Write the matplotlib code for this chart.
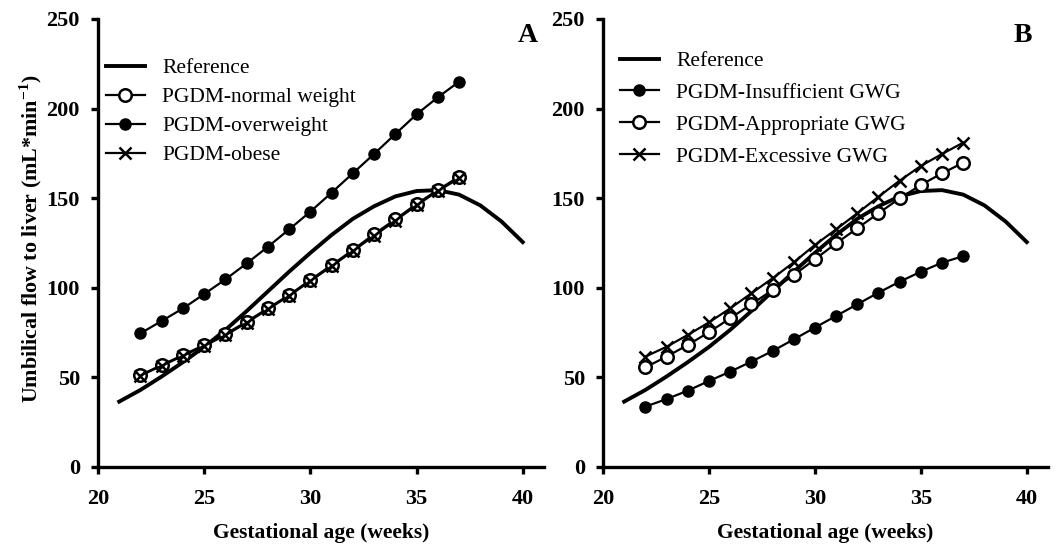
import matplotlib
matplotlib.use("Agg")
import matplotlib.pyplot as plt

plt.rcParams['font.family'] = ['Liberation Serif', 'DejaVu Serif']
plt.rcParams['mathtext.fontset'] = 'custom'
plt.rcParams['mathtext.rm'] = 'Liberation Serif:bold'
plt.rcParams['mathtext.bf'] = 'Liberation Serif:bold'

# ---- data ----
ref_weeks = [21, 22, 23, 24, 25, 26, 27, 28, 29, 30, 31, 32, 33, 34, 35, 36, 37, 38, 39, 40]
ref_flow = [36.5, 43, 50.5, 58.5, 67, 76.5, 87, 98, 109, 119.5, 129.5, 138.5, 145.5, 151, 154, 154.5, 152, 146, 137, 125.5]

weeks = [22, 23, 24, 25, 26, 27, 28, 29, 30, 31, 32, 33, 34, 35, 36, 37]

# Panel A
normal_weight = [51.3, 56.9, 62.5, 68.1, 74.2, 81.1, 88.6, 96.0, 104.4, 112.7, 121.1, 130.0, 138.2, 146.8, 154.6, 162.0]
overweight = [74.6, 81.5, 88.5, 96.5, 104.7, 113.6, 122.9, 132.6, 142.5, 153.1, 163.9, 174.7, 185.8, 196.8, 206.3, 215.0]
obese = [51.0, 56.5, 62.0, 67.6, 73.5, 80.5, 88.0, 95.5, 103.8, 112.0, 120.5, 129.0, 137.5, 146.0, 154.0, 161.0]

# Panel B
insufficient = [33.7, 37.9, 42.6, 48.0, 53.2, 58.8, 64.7, 71.2, 77.8, 84.3, 90.8, 97.3, 103.4, 109.0, 114.0, 117.7]
appropriate = [55.6, 61.6, 68.1, 75.2, 83.0, 90.8, 98.8, 107.1, 115.9, 124.8, 133.2, 141.6, 149.9, 157.4, 163.9, 169.8]
excessive = [61.6, 67.1, 73.7, 80.7, 88.5, 96.9, 105.3, 114.2, 123.9, 132.6, 141.6, 150.8, 159.8, 168.0, 174.7, 181.0]

xticks = [20, 25, 30, 35, 40]
yticks = [0, 50, 100, 150, 200, 250]

W, H = 1056, 546
fig = plt.figure(figsize=(W / 100, H / 100), dpi=100)

def px_axes(x0, x1, y_top, y_bot):
    return fig.add_axes([x0 / W, 1 - y_bot / H, (x1 - x0) / W, (y_bot - y_top) / H])

axA = px_axes(98, 544, 19, 467)
axB = px_axes(603, 1048, 19, 467)

lw_ref = 2.8
lw = 1.6

def style(ax):
    ax.set_xlim(20, 41)
    ax.set_ylim(0, 250)
    ax.set_xticks(xticks)
    ax.set_yticks(yticks)
    for s in ['top', 'right']:
        ax.spines[s].set_visible(False)
    for s in ['left', 'bottom']:
        ax.spines[s].set_linewidth(2.4)
    ax.tick_params(direction='out', length=5, width=2.4, labelsize=16)
    ax.tick_params(axis='y', pad=8)
    ax.tick_params(axis='x', pad=11)
    for t in ax.get_xticklabels() + ax.get_yticklabels():
        t.set_fontweight('bold')
    ax.set_xlabel('Gestational age (weeks)', fontsize=15.5, fontweight='bold', labelpad=10)

leg_kw = dict(bbox_transform=fig.transFigure, loc='upper left', frameon=False, fontsize=15.5,
              handlelength=1.8, handletextpad=0.8, labelspacing=0.42, borderaxespad=0, borderpad=0)

# Panel A
axA.plot(ref_weeks, ref_flow, color='black', lw=lw_ref, label='Reference', zorder=2)
axA.plot(weeks, normal_weight, color='black', lw=lw, marker='o', ms=9, mfc='white', mec='black', mew=1.8,
         label='PGDM-normal weight', zorder=3)
axA.plot(weeks, overweight, color='black', lw=lw, marker='o', ms=8, mfc='black', mec='black',
         label='PGDM-overweight', zorder=3)
axA.plot(weeks, obese, color='black', lw=lw, marker='x', ms=8, mec='black', mew=1.8,
         label='PGDM-obese', zorder=4)
style(axA)
axA.set_ylabel('Umbilical flow to liver (mL*min$^{-1}$)', fontsize=15.8, fontweight='bold')
axA.yaxis.set_label_coords(-0.121, 0.51)
axA.legend(bbox_to_anchor=(106 / W, 1 - 58 / H), **leg_kw)
fig.text(528 / W, 1 - 36 / H, 'A', fontsize=20, fontweight='bold', ha='center', va='center')

# Panel B
axB.plot(ref_weeks, ref_flow, color='black', lw=lw_ref, label='Reference', zorder=2)
axB.plot(weeks, insufficient, color='black', lw=lw, marker='o', ms=8, mfc='black', mec='black',
         label='PGDM-Insufficient GWG', zorder=3)
axB.plot(weeks, appropriate, color='black', lw=lw, marker='o', ms=9, mfc='white', mec='black', mew=1.8,
         label='PGDM-Appropriate GWG', zorder=3)
axB.plot(weeks, excessive, color='black', lw=lw, marker='x', ms=9, mec='black', mew=1.8,
         label='PGDM-Excessive GWG', zorder=4)
style(axB)
axB.legend(bbox_to_anchor=(620 / W, 1 - 51 / H), **dict(leg_kw, labelspacing=0.55))
fig.text(1023 / W, 1 - 36 / H, 'B', fontsize=20, fontweight='bold', ha='center', va='center')

fig.savefig('out.png', dpi=100)
